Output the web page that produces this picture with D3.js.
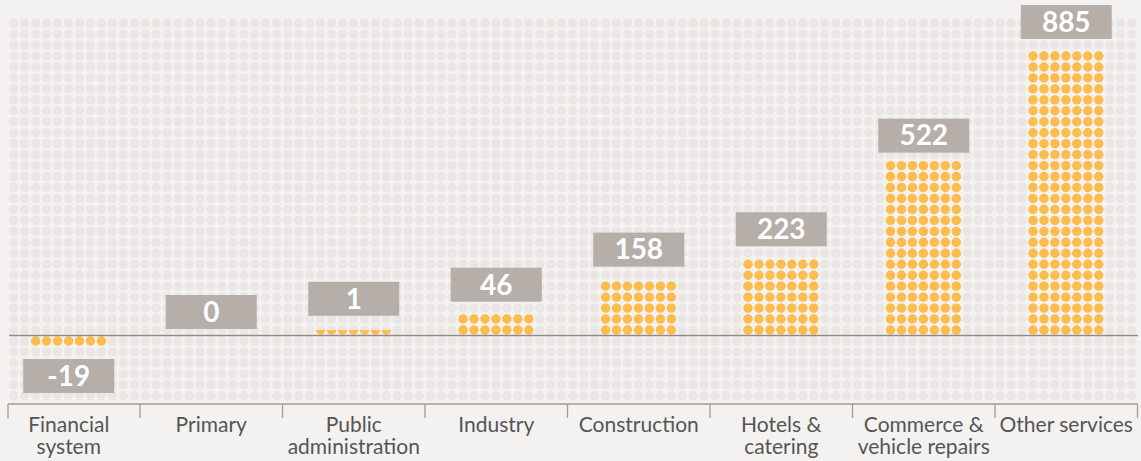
<!DOCTYPE html>
<html>
<head>
<meta charset="utf-8">
<script src="https://cdn.jsdelivr.net/npm/d3@7"></script>
<style>
  html, body { margin: 0; padding: 0; background: #f3f2f0; }
  svg { display: block; }
</style>
</head>
<body>
<svg id="chart" width="1141" height="461"></svg>
<script>
// ---- data ----
const categories = ["Financial system", "Primary", "Public administration", "Industry",
                    "Construction", "Hotels & catering", "Commerce & vehicle repairs", "Other services"];
const values = [-19, 0, 1, 46, 158, 223, 522, 885];
const valueLabels = ["-19", "0", "1", "46", "158", "223", "522", "885"];

// ---- layout ----
const W = 1141, H = 461;
const step = 10.96;          // dot grid pitch
const dotR = 4.7;
const gridX0 = 13.7;         // first column centre
const nCols = 103;
const rowsAbove = 29, rowsBelow = 6;
const baseY = 335.5;         // zero line
const firstRowAbove = 330;   // centre of first row above zero line
const unitsPerRow = 34.5;    // value represented by one row of 7 dots
const axisY = 404, tickLen = 14;

const colors = {
  bg: "#f3f2f0", grid: "#e9e6e3", bar: "#fdbc4b", box: "#b6aea8",
  base: "#948a83", axis: "#a59b94", text: "#555555"
};

const svg = d3.select("#chart");
svg.append("rect").attr("width", W).attr("height", H).attr("fill", colors.bg);

// scales
const x = d3.scaleBand().domain(categories).range([-2.5, 1137.5]).padding(0);
const colX = d3.scaleLinear().domain([0, 1]).range([gridX0, gridX0 + step]);
const rowY = d3.scaleLinear().domain([0, 1]).range([firstRowAbove, firstRowAbove - step]);
const yVal = d3.scaleLinear().domain([0, 35]).range([baseY - 0.9, baseY - 0.9 - step]);

// background dot grid
const gridPts = [];
for (let j = -rowsBelow; j < rowsAbove; j++)
  for (let c = 0; c < nCols; c++) gridPts.push([c, j]);
svg.append("g").selectAll("circle").data(gridPts).join("circle")
  .attr("cx", d => colX(d[0])).attr("cy", d => rowY(d[1])).attr("r", dotR)
  .attr("fill", colors.grid);

// bars made of dots
const defs = svg.append("defs");
const barsG = svg.append("g");
categories.forEach((cat, i) => {
  const v = values[i];
  if (v === 0) return;
  const ratio = Math.abs(v) / unitsPerRow;
  const nRows = Math.ceil(ratio);
  const visRows = ratio <= 0.5 ? 0.5 : nRows;
  const cx = x(cat) + x.bandwidth() / 2;
  const cMid = Math.round((cx - gridX0) / step);
  const pts = [];
  for (let r = 0; r < nRows; r++)
    for (let k = -3; k <= 3; k++) pts.push([cMid + k, v > 0 ? r : -(r + 1)]);
  const h = visRows * step;
  const id = "clip" + i;
  defs.append("clipPath").attr("id", id).append("rect")
    .attr("x", 0).attr("width", W)
    .attr("y", v > 0 ? baseY - h : baseY)
    .attr("height", h);
  barsG.append("g").attr("clip-path", `url(#${id})`)
    .selectAll("circle").data(pts).join("circle")
    .attr("cx", d => colX(d[0])).attr("cy", d => rowY(d[1])).attr("r", dotR)
    .attr("fill", colors.bar);
});

// zero line
svg.append("line").attr("x1", 9).attr("x2", 1138).attr("y1", baseY).attr("y2", baseY)
  .attr("stroke", colors.base).attr("stroke-width", 1.5);

// value labels
const boxW = 91, boxH = 34;
const lab = svg.append("g").selectAll("g").data(categories).join("g")
  .attr("transform", (d, i) => {
    const v = values[i];
    const cx = x(d) + x.bandwidth() / 2;
    let top;
    if (v > 0) top = yVal(v) - 18.5 - boxH;
    else if (v < 0) top = yVal(v) + 18.5;
    else top = baseY - 6.5 - boxH;
    return `translate(${cx},${top})`;
  });
lab.append("rect").attr("x", -boxW / 2).attr("width", boxW).attr("height", boxH).attr("fill", colors.box);
lab.append("text").attr("y", boxH / 2).attr("dy", "0.35em").attr("text-anchor", "middle")
  .attr("fill", "#fff").attr("font-family", "Lato, sans-serif").attr("font-weight", 700)
  .attr("font-size", 28).text((d, i) => valueLabels[i]);

// category axis
const ax = svg.append("g");
ax.append("line").attr("x1", 8).attr("x2", 1137.5).attr("y1", axisY).attr("y2", axisY)
  .attr("stroke", colors.axis).attr("stroke-width", 1.3);
const edges = [8].concat(categories.map(c => x(c) + x.bandwidth()));
ax.selectAll("line.tick").data(edges).join("line").attr("class", "tick")
  .attr("x1", d => d).attr("x2", d => d).attr("y1", axisY).attr("y2", axisY + tickLen)
  .attr("stroke", colors.axis).attr("stroke-width", 1.3);

function wrap(textSel, width) {
  textSel.each(function () {
    const t = d3.select(this);
    const words = t.text().split(/\s+/);
    t.text(null);
    let line = [], lineNo = 0;
    let tspan = t.append("tspan").attr("x", 0).attr("y", 0);
    words.forEach(w => {
      line.push(w);
      tspan.text(line.join(" "));
      if (tspan.node().getComputedTextLength() > width && line.length > 1) {
        line.pop();
        tspan.text(line.join(" "));
        line = [w];
        lineNo++;
        tspan = t.append("tspan").attr("x", 0).attr("y", lineNo * 22).text(w);
      }
    });
  });
}
ax.selectAll("text.cat").data(categories).join("text").attr("class", "cat")
  .attr("transform", d => `translate(${x(d) + x.bandwidth() / 2},432)`)
  .attr("text-anchor", "middle").attr("fill", colors.text)
  .attr("font-family", "Lato, sans-serif").attr("font-size", 21)
  .text(d => d)
  .call(wrap, 140);
</script>
</body>
</html>
